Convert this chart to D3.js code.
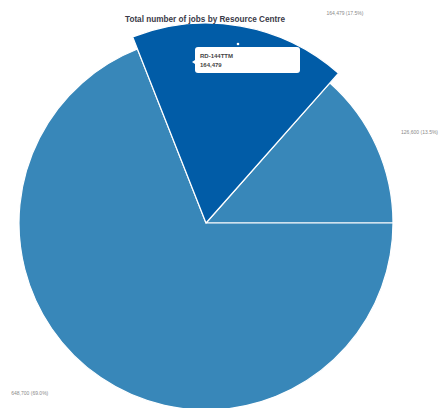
<!DOCTYPE html>
<html><head><meta charset="utf-8">
<script src="https://cdn.jsdelivr.net/npm/d3@7"></script>
<style>html,body{margin:0;padding:0;background:#fff;overflow:hidden}</style>
</head><body>
<svg id="c" width="448" height="408"></svg>
<script>
// Data
const categories = ["RD-144TTM", "RD-Other", "RD-Main"];
const values = [164479, 126600, 648700];
const title = "Total number of jobs by Resource Centre";

// Layout
const W = 448, H = 408, cx = 206, cy = 223, R = 187, Rhover = 200;
const colors = ["#015ca7", "#3887b9", "#3887b9"];
const startDeg = -21.5;
const labelPolar = [[33.6, 251], [67, 232], [226, 245]];

const svg = d3.select("#c");
const total = d3.sum(values);
const pie = d3.pie().sort(null).value(d => d)
  .startAngle(startDeg * Math.PI / 180)
  .endAngle((startDeg + 360) * Math.PI / 180);
const arcs = pie(values);
const g = svg.append("g").attr("transform", `translate(${cx},${cy})`);

g.selectAll("path").data(arcs).enter().append("path")
  .attr("d", (d, i) => d3.arc().innerRadius(0).outerRadius(i === 0 ? Rhover : R)(d))
  .attr("fill", (d, i) => colors[i])
  .attr("stroke", "#fff").attr("stroke-width", 1.2).attr("stroke-linejoin", "round");

// bring hovered slice to top
g.selectAll("path").filter((d, i) => i === 0).raise();

// labels
const fmt = d3.format(",");
arcs.forEach((d, i) => {
  const a = labelPolar[i][0] * Math.PI / 180, r = labelPolar[i][1];
  const x = Math.sin(a) * r, y = -Math.cos(a) * r;
  g.append("text").attr("x", x).attr("y", y)
    .attr("text-anchor", "middle").attr("dominant-baseline", "middle")
    .attr("font-family", "Liberation Sans, Arial, sans-serif").attr("font-size", 5)
    .attr("fill", "#8a8a8a")
    .text(fmt(values[i]) + " (" + (values[i] / total * 100).toFixed(1) + "%)");
});

// title
svg.append("text").attr("x", 205).attr("y", 22).attr("text-anchor", "middle")
  .attr("font-family", "Liberation Sans Narrow, Liberation Sans, sans-serif")
  .attr("font-weight", "bold").attr("font-size", 9).attr("fill", "#3a3a48")
  .attr("textLength", 160).attr("lengthAdjust", "spacingAndGlyphs")
  .text(title);

// tooltip
const tip = svg.append("g").attr("transform", "translate(195,47)");
tip.append("circle").attr("cx", 43).attr("cy", -3).attr("r", 1.3).attr("fill", "#fff");
tip.append("path").attr("d", "M0,13 L-3,15 L0,17 Z").attr("fill", "#fff");
tip.append("rect").attr("width", 105).attr("height", 26).attr("rx", 3).attr("fill", "#fff");
tip.append("text").attr("x", 5).attr("y", 11)
  .attr("font-family", "Liberation Sans, Arial, sans-serif").attr("font-size", 6)
  .attr("font-weight", "bold").attr("fill", "#444").text(categories[0]);
tip.append("text").attr("x", 5).attr("y", 20)
  .attr("font-family", "Liberation Sans, Arial, sans-serif").attr("font-size", 6)
  .attr("font-weight", "bold").attr("fill", "#444").text(fmt(values[0]));
</script>
</body></html>
